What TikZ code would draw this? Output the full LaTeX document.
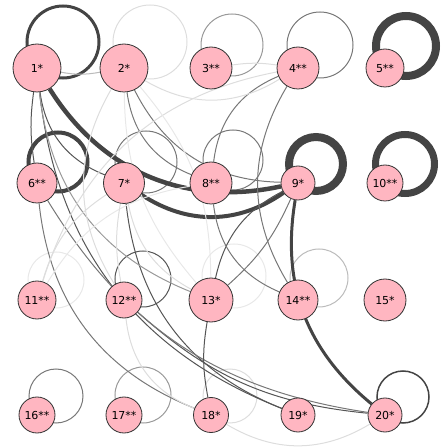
\documentclass[tikz,border=0pt]{standalone}
\usepackage{fontspec}
\setmainfont{DejaVu Sans}
\usetikzlibrary{backgrounds}
\definecolor{vpink}{HTML}{FFB6C1}
\definecolor{vrim}{HTML}{333333}
\definecolor{ink}{HTML}{444444}
\definecolor{g55}{HTML}{555555}
\definecolor{g77}{HTML}{777777}
\definecolor{g99}{HTML}{999999}
\definecolor{gbb}{HTML}{BBBBBB}
\definecolor{gdd}{HTML}{DDDDDD}
\definecolor{gee}{HTML}{E8E8E8}
\tikzset{
  vtx/.style   = {circle, draw=vrim, fill=vpink, line width=0.8pt, inner sep=0pt,
                  font=\fontsize{11}{13}\selectfont},
  heavy/.style = {draw=ink, line width=#1},
  tie/.style   = {draw=#1, line width=1pt},
  selfl/.style = {draw=#1, line width=1pt},
}

\begin{document}
\begin{tikzpicture}[x=1pt, y=1pt]
  \useasboundingbox (0,0) rectangle (440,448);

  % ---------------- vertices ----------------
  \node[vtx, minimum size=48pt] (n1)  at (37,380)  {1*};
  \node[vtx, minimum size=48pt] (n2)  at (124,380) {2*};
  \node[vtx, minimum size=42pt] (n3)  at (211,380) {3**};
  \node[vtx, minimum size=42pt] (n4)  at (298,380) {4**};
  \node[vtx, minimum size=38pt] (n5)  at (385,380) {5**};
  \node[vtx, minimum size=40pt] (n6)  at (37,265)  {6**};
  \node[vtx, minimum size=41pt] (n7)  at (124,265) {7*};
  \node[vtx, minimum size=42pt] (n8)  at (211,265) {8**};
  \node[vtx, minimum size=34pt] (n9)  at (298,265) {9*};
  \node[vtx, minimum size=36pt] (n10) at (385,265) {10**};
  \node[vtx, minimum size=38pt] (n11) at (37,148)  {11**};
  \node[vtx, minimum size=36pt] (n12) at (124,148) {12**};
  \node[vtx, minimum size=44pt] (n13) at (211,148) {13*};
  \node[vtx, minimum size=40pt] (n14) at (298,148) {14**};
  \node[vtx, minimum size=42pt] (n15) at (385,148) {15*};
  \node[vtx, minimum size=36pt] (n16) at (37,33)   {16**};
  \node[vtx, minimum size=36pt] (n17) at (124,33)  {17**};
  \node[vtx, minimum size=35pt] (n18) at (211,33)  {18*};
  \node[vtx, minimum size=34pt] (n19) at (298,33)  {19*};
  \node[vtx, minimum size=34pt] (n20) at (385,33)  {20*};

  \begin{scope}[on background layer]
    % ---------------- self loops ----------------
    \draw[heavy=3pt]   ([shift={(26,26)}]n1.center)  circle[radius=36];
    \draw[selfl=gdd]   ([shift={(26,26)}]n2.center)  circle[radius=37];
    \draw[selfl=g99]   ([shift={(21,23)}]n3.center)  circle[radius=31];
    \draw[selfl=g77]   ([shift={(22,23)}]n4.center)  circle[radius=33];
    \draw[heavy=8pt]   ([shift={(21,22)}]n5.center)  circle[radius=30];
    \draw[heavy=4pt]   ([shift={(21,21)}]n6.center)  circle[radius=29.5];
    \draw[selfl=g77]   ([shift={(22,21)}]n7.center)  circle[radius=31];
    \draw[selfl=g77]   ([shift={(22,23)}]n8.center)  circle[radius=30];
    \draw[heavy=8pt]   ([shift={(18,19)}]n9.center)  circle[radius=27];
    \draw[heavy=7pt]   ([shift={(20,19)}]n10.center) circle[radius=29.5];
    \draw[selfl=gee]   ([shift={(19,20)}]n11.center) circle[radius=28];
    \draw[selfl=g55]   ([shift={(19,21)}]n12.center) circle[radius=28];
    \draw[selfl=gee]   ([shift={(23,24)}]n13.center) circle[radius=32];
    \draw[selfl=gbb]   ([shift={(21,22)}]n14.center) circle[radius=29];
    \draw[selfl=g77]   ([shift={(19,19)}]n16.center) circle[radius=27];
    \draw[selfl=g99]   ([shift={(19,20)}]n17.center) circle[radius=28];
    \draw[selfl=gdd]   ([shift={(19,19)}]n18.center) circle[radius=27];
    \draw[heavy=1.5pt] ([shift={(18,18)}]n20.center) circle[radius=26];

    % ---------------- strong links ----------------
    \draw[heavy=4.5pt] (n1) to[bend right=35] (n9);
    \draw[heavy=4pt]   (n7) to[bend right=34] (n9);
    \draw[heavy=3pt]   (n9) to[bend right=30] (n20);

    % ---------------- medium links ----------------
    \draw[tie=g55] (n1) to[bend right=8] (n6);
    \draw[tie=g55] (n1) to[bend right=30] (n7);
    \draw[tie=g55] (n1) to[bend right=31] (n19);
    \draw[tie=g55] (n7) to[bend right=31] (n19);
    \draw[tie=g55] (n12) to[bend right=18] (n20);
    \draw[tie=g77] (n6) to[bend right=25] (n20);
    \draw[tie=g55] (n9) to[bend right=25] (n13);
    \draw[tie=g77] (n13) to[bend right=12] (n9);
    \draw[tie=g55] (n13) to[bend right=10] (n18);
    \draw[tie=g77] (n6) to[bend right=31] (n18);
    \draw[tie=g77] (n2) to[bend right=30] (n8);
    \draw[tie=g77] (n2) to[bend right=31] (n9);
    \draw[tie=g77] (n4) to[bend right=30] (n8);
    \draw[tie=g77] (n4) to[bend right=31] (n14);
    \draw[tie=g77] (n8) to[bend right=30] (n14);
    \draw[tie=g99] (n1) to[bend right=31] (n13);

    % ---------------- faint links ----------------
    \draw[tie=gbb] (n1) to[bend right=10] (n2);
    \draw[tie=gdd] (n2) to[bend right=31] (n4);
    \draw[tie=gdd] (n4) to[bend right=8] (n3);
    \draw[tie=gdd] (n4) to[bend right=31] (n11);
    \draw[tie=gdd] (n7) to[bend right=20] (n11);
    \draw[tie=gee] (n8) to[bend right=25] (n11);
    \draw[tie=gdd] (n7) to[bend right=10] (n12);
    \draw[tie=gdd] (n2) to[bend right=31] (n12);
    \draw[tie=gee] (n2) to[bend right=20] (n13);
    \draw[tie=gee] (n13) to[bend right=20] (n2);
    \draw[tie=gdd] (n7) to[bend right=25] (n13);
    \draw[tie=gdd] (n12) to[bend right=31] (n18);
    \draw[tie=gdd] (n18) to[bend right=31] (n20);
  \end{scope}
\end{tikzpicture}
\end{document}
